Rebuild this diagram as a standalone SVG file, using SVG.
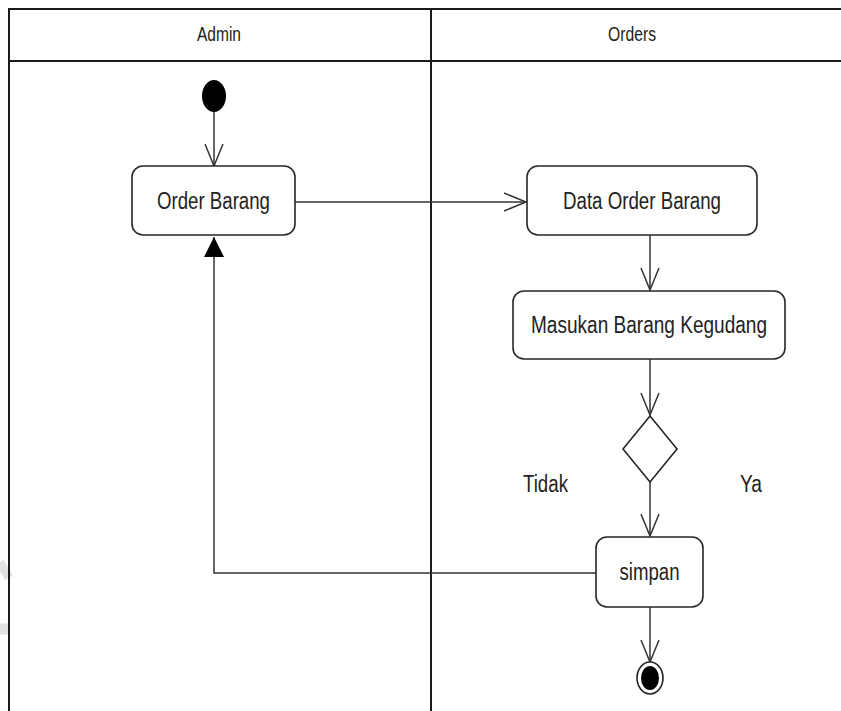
<svg xmlns="http://www.w3.org/2000/svg" width="841" height="711" viewBox="0 0 841 711">
  <style>
    .lane { stroke: #1a1a1a; stroke-width: 2; fill: none; }
    .act { fill: #fff; stroke: #262626; stroke-width: 1.6; }
    .edge { fill: none; stroke: #333; stroke-width: 1.5; }
    .lbl { font-family: "Liberation Sans Narrow", "Liberation Sans", Arial, sans-serif; fill: #222; text-anchor: middle; }
    .hdr { font-size: 20px; }
    .txt { font-size: 23px; }
  </style>
  <defs>
    <marker id="open" markerUnits="userSpaceOnUse" markerWidth="26" markerHeight="24" viewBox="0 0 26 24" refX="24" refY="12" orient="auto">
      <path d="M2,3 L24,12 L2,21" fill="none" stroke="#333" stroke-width="1.5"/>
    </marker>
    <marker id="solid" markerUnits="userSpaceOnUse" markerWidth="22" markerHeight="22" viewBox="0 0 22 22" refX="21" refY="11" orient="auto">
      <path d="M1,1 L21,11 L1,21 Z" fill="#000"/>
    </marker>
  </defs>
  <rect width="841" height="711" fill="#fff"/>

  <!-- faint marks on the left margin -->
  <path d="M0,562 L9,578" stroke="#e2e2e2" stroke-width="9" fill="none"/>
  <path d="M0,629 L9,629" stroke="#e2e2e2" stroke-width="11" fill="none"/>

  <!-- swimlanes -->
  <g id="lanes">
    <line class="lane" x1="9" y1="9" x2="841" y2="9"/>
    <line class="lane" x1="9" y1="61" x2="841" y2="61"/>
    <line class="lane" x1="9" y1="8" x2="9" y2="711"/>
    <line class="lane" x1="431" y1="8" x2="431" y2="711"/>
    <text class="lbl hdr" x="219" y="41" textLength="44" lengthAdjust="spacingAndGlyphs">Admin</text>
    <text class="lbl hdr" x="632" y="41" textLength="48" lengthAdjust="spacingAndGlyphs">Orders</text>
  </g>

  <!-- connectors -->
  <g id="connectors">
    <line class="edge" x1="214" y1="110" x2="214" y2="166" marker-end="url(#open)"/>
    <line class="edge" x1="295" y1="202" x2="526" y2="202" marker-end="url(#open)"/>
    <line class="edge" x1="650" y1="235" x2="650" y2="290" marker-end="url(#open)"/>
    <line class="edge" x1="650" y1="359" x2="650" y2="415" marker-end="url(#open)"/>
    <line class="edge" x1="650" y1="482" x2="650" y2="536" marker-end="url(#open)"/>
    <line class="edge" x1="650" y1="607" x2="650" y2="662" marker-end="url(#open)"/>
    <polyline class="edge" points="596,573 214,573 214,237" marker-end="url(#solid)"/>
  </g>

  <!-- nodes -->
  <g id="start">
    <ellipse cx="214" cy="96" rx="12" ry="16" fill="#000"/>
  </g>
  <g id="order-barang">
    <rect class="act" x="132" y="166" width="163" height="69" rx="11"/>
    <text class="lbl txt" x="213.5" y="209" textLength="113" lengthAdjust="spacingAndGlyphs">Order Barang</text>
  </g>
  <g id="data-order-barang">
    <rect class="act" x="527" y="166" width="230" height="69" rx="11"/>
    <text class="lbl txt" x="642" y="209" textLength="158" lengthAdjust="spacingAndGlyphs">Data Order Barang</text>
  </g>
  <g id="masukan-barang">
    <rect class="act" x="513" y="291" width="272" height="68" rx="11"/>
    <text class="lbl txt" x="649" y="333" textLength="236" lengthAdjust="spacingAndGlyphs">Masukan Barang Kegudang</text>
  </g>
  <g id="decision">
    <polygon class="act" points="650,416 677,449 650,482 623,449"/>
  </g>
  <g id="guards">
    <text class="lbl txt" x="545.5" y="492" textLength="45" lengthAdjust="spacingAndGlyphs">Tidak</text>
    <text class="lbl txt" x="751" y="492" textLength="22" lengthAdjust="spacingAndGlyphs">Ya</text>
  </g>
  <g id="simpan">
    <rect class="act" x="596" y="537" width="107" height="70" rx="11"/>
    <text class="lbl txt" x="649.5" y="580" textLength="60" lengthAdjust="spacingAndGlyphs">simpan</text>
  </g>
  <g id="end">
    <ellipse cx="650" cy="678" rx="13" ry="16" fill="#fff" stroke="#222" stroke-width="1.6"/>
    <ellipse cx="650" cy="678" rx="9" ry="12" fill="#000"/>
  </g>
</svg>
